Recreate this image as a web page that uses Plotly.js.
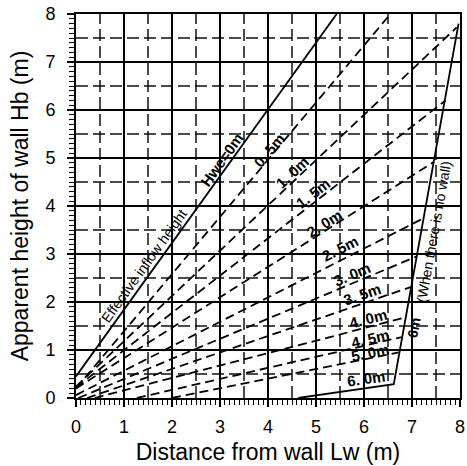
<!DOCTYPE html>
<html>
<head>
<meta charset="utf-8">
<script src="https://cdn.plot.ly/plotly-3.0.1.min.js"></script>
<style>
  html, body { margin: 0; padding: 0; background: #fff; }
  #chart { width: 467px; height: 466px; }
</style>
</head>
<body>
<div id="chart"></div>
<script>
// ---- data ----
const tickValues = [0, 1, 2, 3, 4, 5, 6, 7, 8];

// effective inflow height Hwe = 0 m (solid line)
const zeroLineLw = [0, 5.43];
const zeroLineHb = [0.45, 8.0];

// dashed lines of constant Hwe
const hweLabels = ['0. 5m', '1. 0m', '1. 5m', '2. 0m', '2. 5m', '3. 0m', '3. 5m', '4. 0m', '4. 5m', '5. 0m'];
const startLw   = [0, 0, 0, 0, 0, 0.05, 0.23, 0.39, 1.27, 2.0];
const startHb   = [0.20, 0.24, 0.22, 0.20, 0.06, 0, 0, 0, 0, 0];
const endLw     = [6.55, 7.93, 7.70, 7.46, 7.25, 7.10, 6.97, 6.87, 6.79, 6.72];
const endHb     = [8.0, 7.72, 6.20, 4.92, 3.75, 2.95, 2.31, 1.68, 1.27, 0.95];

// boundary line Hwe = 6 m (when there is no wall)
const boundaryLw = [4.63, 6.62, 7.97];
const boundaryHb = [0.0, 0.29, 7.80];

// label anchor points
const labelLw = [4.02, 4.50, 4.93, 5.17, 5.50, 5.74, 5.95, 6.09, 6.13, 6.13];
const labelHb = [5.16, 4.70, 4.26, 3.64, 3.11, 2.57, 2.16, 1.65, 1.25, 0.94];
const sixLabel = {text: '6. 0m', lw: 6.05, hb: 0.40};

// ---- geometry helpers ----
const W = 467, H = 466;
const margin = {l: 76, r: 7, t: 14, b: 68};
const pxX = (W - margin.l - margin.r) / 8;
const pxY = (H - margin.t - margin.b) / 8;
function angleOf(x0, y0, x1, y1) {
  return -Math.atan2((y1 - y0) * pxY, (x1 - x0) * pxX) * 180 / Math.PI;
}

const traces = [];
traces.push({
  x: zeroLineLw, y: zeroLineHb, mode: 'lines', type: 'scatter',
  line: {color: '#000', width: 1.8}, hoverinfo: 'skip', showlegend: false
});
for (let i = 0; i < hweLabels.length; i++) {
  traces.push({
    x: [startLw[i], endLw[i]], y: [startHb[i], endHb[i]],
    mode: 'lines', type: 'scatter',
    line: {color: '#000', width: 1.8, dash: '9px,5px'},
    hoverinfo: 'skip', showlegend: false
  });
}
traces.push({
  x: boundaryLw, y: boundaryHb, mode: 'lines', type: 'scatter',
  line: {color: '#000', width: 1.8}, hoverinfo: 'skip', showlegend: false
});

// half-unit dashed grid
const shapes = [];
for (let v = 0.5; v < 8; v += 1) {
  shapes.push({type: 'line', xref: 'x', yref: 'y', x0: v, x1: v, y0: 0, y1: 8,
    line: {color: '#111', width: 1.5, dash: '12px,5px'}, layer: 'below'});
  shapes.push({type: 'line', xref: 'x', yref: 'y', x0: 0, x1: 8, y0: v, y1: v,
    line: {color: '#111', width: 1.5, dash: '12px,5px'}, layer: 'below'});
}

const fam = 'Liberation Sans, Arial, sans-serif';
const labelFont = {family: fam, size: 15, color: '#000'};
const annotations = [];
for (let i = 0; i < hweLabels.length; i++) {
  annotations.push({
    x: labelLw[i], y: labelHb[i], xref: 'x', yref: 'y', showarrow: false,
    text: '<b>' + hweLabels[i] + '</b>', font: labelFont,
    textangle: angleOf(startLw[i], startHb[i], endLw[i], endHb[i])
  });
}
annotations.push({
  x: sixLabel.lw, y: sixLabel.hb, xref: 'x', yref: 'y', showarrow: false,
  text: '<b>' + sixLabel.text + '</b>', font: labelFont,
  textangle: angleOf(boundaryLw[0], boundaryHb[0], boundaryLw[1], boundaryHb[1])
});
annotations.push({
  x: 3.04, y: 4.97, xref: 'x', yref: 'y', showarrow: false,
  text: '<b>Hwe=0m</b>', font: {family: fam, size: 15, color: '#000'},
  textangle: angleOf(zeroLineLw[0], zeroLineHb[0], zeroLineLw[1], zeroLineHb[1])
});
annotations.push({
  x: 1.42, y: 2.74, xref: 'x', yref: 'y', showarrow: false,
  text: 'Effective inflow height', font: {family: fam, size: 14, color: '#000'},
  textangle: angleOf(zeroLineLw[0], zeroLineHb[0], zeroLineLw[1], zeroLineHb[1])
});
annotations.push({
  x: 7.05, y: 1.47, xref: 'x', yref: 'y', showarrow: false,
  text: '<b>6m</b>', font: {family: fam, size: 14, color: '#000'},
  textangle: angleOf(boundaryLw[1], boundaryHb[1], boundaryLw[2], boundaryHb[2])
});
annotations.push({
  x: 7.46, y: 3.45, xref: 'x', yref: 'y', showarrow: false,
  text: '(When there is no wall)', font: {family: fam, size: 14, color: '#000'},
  textangle: angleOf(boundaryLw[1], boundaryHb[1], boundaryLw[2], boundaryHb[2])
});

const axisCommon = {
  range: [0, 8], tickvals: tickValues, ticktext: tickValues.map(String),
  showline: true, linewidth: 2, linecolor: '#000', mirror: true,
  showgrid: true, gridcolor: '#000', gridwidth: 1.5, zeroline: false,
  ticks: 'outside', ticklen: 7, tickwidth: 1.5, tickcolor: '#000',
  minor: {dtick: 0.1, ticks: 'outside', ticklen: 5, tickwidth: 1, tickcolor: '#000', showgrid: false},
  tickfont: {family: fam, size: 18, color: '#000'},
  fixedrange: true
};

const layout = {
  width: W, height: H, margin: margin,
  paper_bgcolor: '#fff', plot_bgcolor: '#fff',
  showlegend: false,
  xaxis: Object.assign({}, axisCommon, {
    ticklabelstandoff: 4,
    title: {text: 'Distance from wall Lw (m)', standoff: 8,
      font: {family: fam, size: 23, color: '#000'}}
  }),
  yaxis: Object.assign({}, axisCommon, {
    ticklabelstandoff: 8,
    title: {text: 'Apparent height of wall Hb (m)', standoff: 10,
      font: {family: fam, size: 23, color: '#000'}}
  }),
  shapes: shapes,
  annotations: annotations
};

Plotly.newPlot('chart', traces, layout, {staticPlot: true, displayModeBar: false});
</script>
</body>
</html>
